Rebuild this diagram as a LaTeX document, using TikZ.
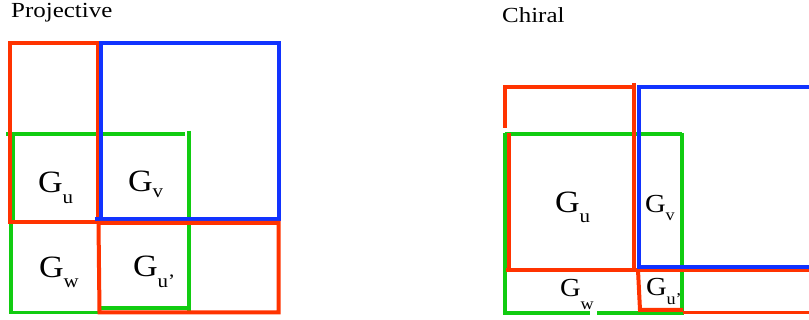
\documentclass[tikz,border=0pt]{standalone}
\usepackage{fontspec}
\setmainfont{Liberation Serif}
\definecolor{cred}{RGB}{255,51,0}
\definecolor{cblue}{RGB}{17,51,255}
\definecolor{cgreen}{RGB}{17,204,17}
\newcommand{\glab}[4]{\scalebox{1.1}[1]{\fontsize{#1}{#1}\selectfont G\raisebox{-#3pt}{\fontsize{#2}{#2}\selectfont #4}}}
\tikzset{
  redline/.style={draw=cred,line width=4pt},
  blueline/.style={draw=cblue,line width=4pt},
  greenline/.style={draw=cgreen,line width=3.7pt},
  lab/.style={anchor=base west,inner sep=0pt,outer sep=0pt},
  title/.style={anchor=base west,inner sep=0pt,font=\fontsize{21.5}{21.5}\selectfont}
}
\begin{document}
\begin{tikzpicture}[x=1pt,y=-1pt]
\useasboundingbox (0,0) rectangle (809,320);
% titles
\node[title] (tp) at (11,18) {\scalebox{1.16}[1]{Projective}};
\node[title] (tc) at (502,23) {\scalebox{1.16}[1]{Chiral}};
% ---------- Projective ----------
\draw[greenline] (6,134) -- (185,134);
\draw[greenline] (13.5,134) -- (13.5,222);
\draw[greenline] (11,222) -- (11,312.5) -- (98,312.5);
\draw[greenline] (100,307.7) -- (189,307.7);
\draw[greenline] (189,131) -- (189,313.7);
\draw[redline] (10,43) rectangle (97.7,222);
\draw[blueline] (101.3,43) rectangle (278.7,219.5);
\draw[blueline] (95,219.5) -- (101.3,219.5);
\draw[redline] (98.5,223) -- (278.5,223) -- (278.5,312.3) -- (99.5,312.3) -- cycle;
\node[lab] (pu) at (38,193) {\glab{31}{19}{11}{u}};
\node[lab] (pv) at (128,192) {\glab{31}{19}{6}{v}};
\node[lab] (pw) at (39,278) {\glab{31}{19}{10}{w}};
\node[lab] (pu2) at (133,277) {\glab{31}{19}{11}{u’}};
% ---------- Chiral ----------
\draw[greenline] (505,134) -- (682,134);
\draw[greenline] (505,133) -- (505,313.3) -- (590,313.3);
\draw[greenline] (597,313.3) -- (682,313.3) -- (682,133);
\draw[redline] (505,128) -- (505,87) -- (634.3,87);
\draw[redline] (509,133) -- (509,268);
\draw[redline] (634.3,83) -- (634.3,272);
\draw[redline] (506,270) -- (812,270);
\draw[blueline] (812,87) -- (639,87) -- (639,267) -- (812,267);
\draw[redline] (638,270) -- (640,310) -- (683,310);
\draw[draw=cred,line width=2.5pt] (683,312.5) -- (812,312.5);
\node[lab] (cu) at (555,213) {\glab{31}{19}{10}{u}};
\node[lab] (cv) at (645,213) {\glab{26}{16.5}{8}{v}};
\node[lab] (cw) at (560,297) {\glab{26}{16.5}{13}{w}};
\node[lab] (cu2) at (646,296) {\glab{26}{16.5}{9}{u’}};
\end{tikzpicture}
\end{document}
